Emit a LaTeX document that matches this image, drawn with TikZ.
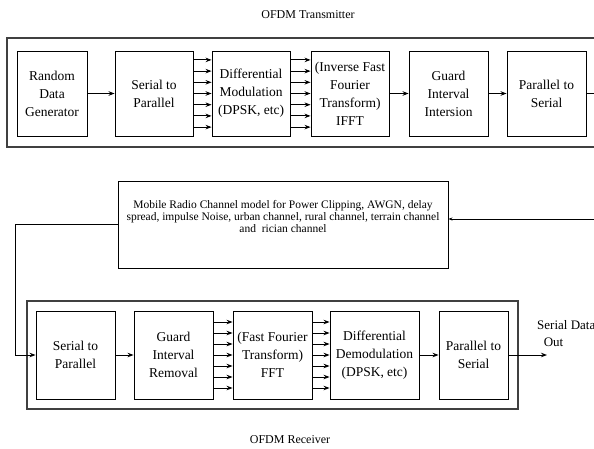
\documentclass[tikz,border=0pt]{standalone}
\usepackage{fontspec}
\setmainfont{Liberation Serif}
\usetikzlibrary{arrows.meta}
\begin{document}
\begin{tikzpicture}[x=1pt,y=-1pt,
  blk/.style={draw=black,line width=0.9pt,align=center,inner sep=0pt,
    font=\rmfamily\fontsize{13.5}{18}\selectfont},
  frame/.style={draw=black!75,line width=1.4pt},
  arr/.style={line width=0.9pt,-{Stealth[length=6pt,width=4.5pt]}},
  ln/.style={line width=0.9pt}]
\useasboundingbox (0,0) rectangle (594,448);
% titles
\node[font=\rmfamily\fontsize{12}{14}\selectfont] (ttx) at (308,15) {OFDM Transmitter};
\node[font=\rmfamily\fontsize{12}{14}\selectfont] (trx) at (290,440) {OFDM Receiver};
% frames
\draw[frame] (600,38) -- (7,38) -- (7,147) -- (600,147);
\draw[frame] (27,301) rectangle (518,409);
% transmitter
\node[blk,minimum width=70pt,minimum height=85pt] (rdg) at (52,93.5) {Random\\Data\\Generator};
\node[blk,minimum width=78pt,minimum height=85pt] (s2p) at (154,93.5) {Serial to\\Parallel};
\node[blk,minimum width=78pt,minimum height=85pt] (dmod) at (251,93.5) {Differential\\Modulation\\(DPSK, etc)};
\node[blk,minimum width=78pt,minimum height=85pt] (ifft) at (350,93.5) {(Inverse Fast\\Fourier\\Transform)\\IFFT};
\node[blk,minimum width=79pt,minimum height=85pt] (gii) at (448.5,93.5) {Guard\\Interval\\Intersion};
\node[blk,minimum width=79pt,minimum height=85pt] (p2s) at (546.5,93.5) {Parallel to\\Serial};
\draw[arr] (rdg.east) -- (s2p.west);
\foreach \k in {-3,...,3}{
  \draw[arr] ([yshift=\k*11.2pt]s2p.east) -- ([yshift=\k*11.2pt]dmod.west);
  \draw[arr] ([yshift=\k*11.2pt]dmod.east) -- ([yshift=\k*11.2pt]ifft.west);
}
\draw[arr] (ifft.east) -- (gii.west);
\draw[arr] (gii.east) -- (p2s.west);
% channel
\node[draw=black,line width=0.9pt,minimum width=330pt,minimum height=87pt,inner sep=0pt] (ch) at (283,224.5) {};
\node[align=center,font=\rmfamily\fontsize{11.5}{11.7}\selectfont] (cht) at (283,216.5)
  {Mobile Radio Channel model for Power Clipping, AWGN, delay\\spread, impulse Noise, urban channel, rural channel, terrain channel\\and\ \ rician channel};
\coordinate (rt) at (600,93.5);
\coordinate (lb) at (15,224);
\draw[ln,-{Stealth[length=4pt,width=3pt]}] (p2s.east) -- (rt) |- ([yshift=5.5pt]ch.east);
% receiver
\node[blk,minimum width=79pt,minimum height=88pt] (rs2p) at (75.5,355) {Serial to\\Parallel};
\node[blk,minimum width=79pt,minimum height=88pt] (gir) at (173.5,355) {Guard\\Interval\\Removal};
\node[blk,minimum width=79pt,minimum height=88pt] (fft) at (272.5,355) {(Fast Fourier\\Transform)\\FFT};
\node[blk,minimum width=89pt,minimum height=88pt] (ddem) at (374.5,355) {Differential\\Demodulation\\(DPSK, etc)};
\node[blk,minimum width=69pt,minimum height=88pt] (rp2s) at (473.5,355) {Parallel to\\Serial};
\draw[ln] ([yshift=0.5pt]ch.west) -- (lb);
\draw[arr] (lb) |- (rs2p.west);
\draw[arr] (rs2p.east) -- (gir.west);
\foreach \k in {-3,...,3}{
  \draw[arr] ([yshift=\k*11pt]gir.east) -- ([yshift=\k*11pt]fft.west);
  \draw[arr] ([yshift=\k*11pt]fft.east) -- ([yshift=\k*11pt]ddem.west);
}
\draw[arr] (ddem.east) -- (rp2s.west);
\coordinate (out) at (547,355);
\draw[arr] (rp2s.east) -- (out);
\node[anchor=west,font=\rmfamily\fontsize{13}{16}\selectfont,inner sep=0pt] (sdo1) at (537,325) {Serial Data};
\node[font=\rmfamily\fontsize{13}{16}\selectfont,inner sep=0pt] (sdo2) at (553.5,342) {Out};
\end{tikzpicture}
\end{document}
